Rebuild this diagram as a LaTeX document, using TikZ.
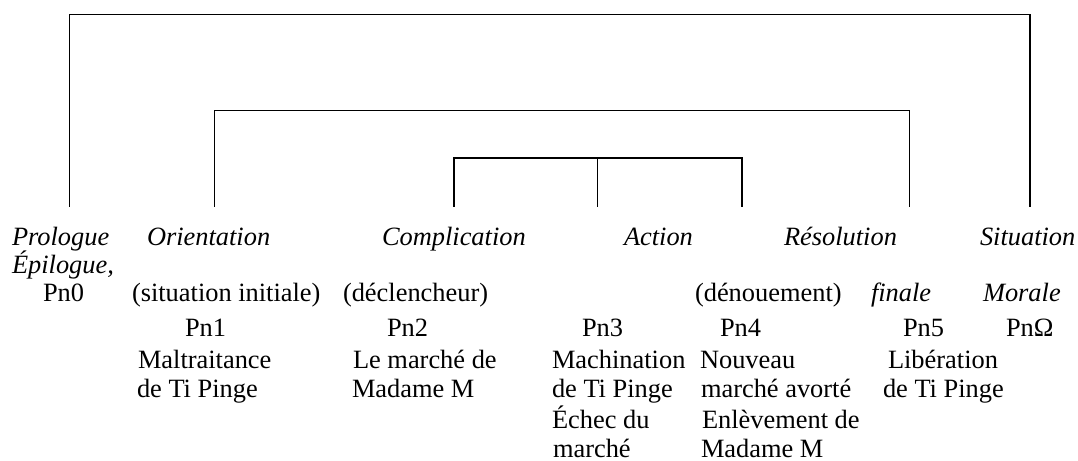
\documentclass[tikz,border=0pt]{standalone}
\usepackage{fontspec}
\setmainfont{Liberation Serif}
\begin{document}
\begin{tikzpicture}[x=0.4545pt,y=-0.4545pt,
  lbl/.style={anchor=base west,inner sep=0pt,outer sep=0pt,font=\fontsize{12}{14}\selectfont},
  ilbl/.style={lbl,font=\fontsize{12}{14}\selectfont\itshape},
  bracket/.style={draw=black,line width=0.6pt}]
\useasboundingbox (0,0) rectangle (1078,461);

% leg feet of the brackets
\coordinate (fPro) at (69.5,207);
\coordinate (fOri) at (214.5,207);
\coordinate (fCom) at (454,207);
\coordinate (fAct) at (597.8,207);
\coordinate (fRes) at (742,207);
\coordinate (fFin) at (909.6,207);
\coordinate (fSit) at (1030,207);

% nested brackets
\draw[bracket] (fPro) -- (fPro |- 0,14.5) -| (fSit);
\draw[bracket] (fOri) -- (fOri |- 0,110.3) -| (fFin);
\draw[bracket] (fCom) -- (fCom |- 0,158) -| (fRes);
\draw[bracket] (fAct) -- (fAct |- 0,158);

% category names
\node[ilbl] (tPro) at (12,245) {Prologue};
\node[ilbl] (tOri) at (147,245) {Orientation};
\node[ilbl] (tCom) at (382,245) {Complication};
\node[ilbl] (tAct) at (624,245) {Action};
\node[ilbl] (tRes) at (784,245) {Résolution};
\node[ilbl] (tSit) at (980,245) {Situation};
\node[ilbl] (tEpi) at (12,273) {Épilogue,};

% second line of the headings
\node[lbl]  (pPn0) at (43,301) {Pn0};
\node[lbl]  (pSit) at (132,301) {(situation initiale)};
\node[lbl]  (pDec) at (343,301) {(déclencheur)};
\node[lbl]  (pDen) at (695,301) {(dénouement)};
\node[ilbl] (pFin) at (871,301) {finale};
\node[ilbl] (pMor) at (983,301) {Morale};

% propositions
\node[lbl] (n1) at (185,336) {Pn1};
\node[lbl] (n2) at (387,336) {Pn2};
\node[lbl] (n3) at (582,336) {Pn3};
\node[lbl] (n4) at (720,336) {Pn4};
\node[lbl] (n5) at (903,336) {Pn5};
\node[lbl] (nO) at (1006,336) {PnΩ};

% contents
\node[lbl] (c1a) at (138,368) {Maltraitance};
\node[lbl] (c1b) at (137,397) {de Ti Pinge};
\node[lbl] (c2a) at (353,368) {Le marché de};
\node[lbl] (c2b) at (352,397) {Madame M};
\node[lbl] (c3a) at (552,368) {Machination};
\node[lbl] (c3b) at (552,397) {de Ti Pinge};
\node[lbl] (c3c) at (552,428) {Échec du};
\node[lbl] (c3d) at (553,457) {marché};
\node[lbl] (c4a) at (700,368) {Nouveau};
\node[lbl] (c4b) at (701,397) {marché avorté};
\node[lbl] (c4c) at (702,428) {Enlèvement de};
\node[lbl] (c4d) at (701,457) {Madame M};
\node[lbl] (c5a) at (888,368) {Libération};
\node[lbl] (c5b) at (883,397) {de Ti Pinge};
\end{tikzpicture}
\end{document}
